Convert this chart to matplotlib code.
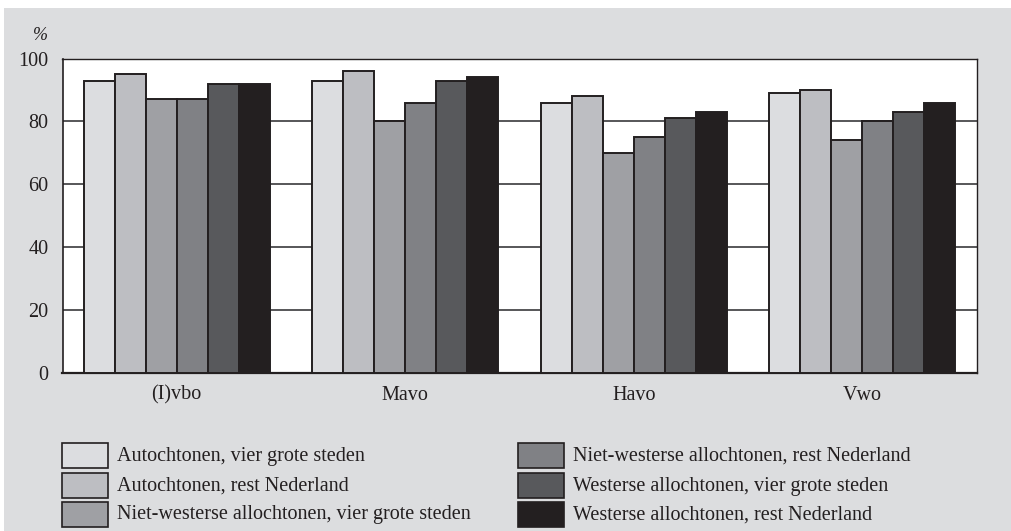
import numpy as np
import matplotlib
matplotlib.use("Agg")
import matplotlib.pyplot as plt
from matplotlib.patches import Rectangle

# categories and series
categories = ["(I)vbo", "Mavo", "Havo", "Vwo"]
series_names = [
    "Autochtonen, vier grote steden",
    "Autochtonen, rest Nederland",
    "Niet-westerse allochtonen, vier grote steden",
    "Niet-westerse allochtonen, rest Nederland",
    "Westerse allochtonen, vier grote steden",
    "Westerse allochtonen, rest Nederland",
]
auto_4gs = [93, 93, 86, 89]
auto_rest = [95, 96, 88, 90]
nw_4gs = [87, 80, 70, 74]
nw_rest = [87, 86, 75, 80]
w_4gs = [92, 93, 81, 83]
w_rest = [92, 94, 83, 86]
values = [auto_4gs, auto_rest, nw_4gs, nw_rest, w_4gs, w_rest]
colors = ["#dcdde0", "#bdbec2", "#9fa0a4", "#808185", "#58595c", "#231f20"]
yticks = [0, 20, 40, 60, 80, 100]

plt.rcParams["font.family"] = ["Liberation Serif", "DejaVu Serif"]
ink = "#231f20"
bg = "#dcdddf"

fig = plt.figure(figsize=(10.11, 5.31), dpi=100)
W, H = 1011, 531
# grey panel below a thin white strip
fig.patches.append(Rectangle((4 / W, 0), 1 - 4 / W, 1 - 8 / H, transform=fig.transFigure,
                             facecolor=bg, edgecolor="none", zorder=0))

ax = fig.add_axes([62.5 / W, 1 - 373 / H, 914 / W, (373 - 58.5) / H])
ax.set_zorder(2)
ax.set_facecolor("white")

x = np.arange(len(categories))
group_w = 0.812
bw = group_w / len(values)
for i, (vals, c) in enumerate(zip(values, colors)):
    ax.bar(x - group_w / 2 + bw * (i + 0.5), vals, width=bw, color=c,
           edgecolor=ink, linewidth=1.4, zorder=3, label=series_names[i])

ax.set_xlim(-0.5, 3.5)
ax.set_ylim(0, 100)
ax.set_yticks(yticks)
ax.set_xticks(x)
ax.set_xticklabels(categories, fontsize=14.5, color=ink)
ax.tick_params(axis="both", length=0, labelsize=14.5, colors=ink)
ax.tick_params(axis="y", pad=10)
ax.tick_params(axis="x", pad=9)
ax.yaxis.grid(True, color="#3a3a3c", linewidth=1.2, zorder=1)
ax.set_axisbelow(True)
for s in ax.spines.values():
    s.set_color(ink)
    s.set_linewidth(1.0)
ax.spines["bottom"].set_linewidth(1.6)
ax.spines["left"].set_linewidth(1.2)

fig.text(40 / W, 1 - 36 / H, "%", fontsize=13, style="italic", color=ink,
         ha="center", va="center", zorder=3)

# legend drawn by hand in two columns
col_x = [62, 518]
row_y = [455, 485, 514]
pw, ph = 46, 25
for i, name in enumerate(series_names):
    cx = col_x[i // 3]
    cy = row_y[i % 3]
    fig.patches.append(Rectangle((cx / W, 1 - (cy + ph / 2) / H), pw / W, ph / H,
                                 transform=fig.transFigure, facecolor=colors[i],
                                 edgecolor=ink, linewidth=1.2, zorder=2))
    fig.text((cx + pw + 9) / W, 1 - (cy + 1) / H, name, fontsize=14.5, color=ink,
             ha="left", va="center", zorder=3)

fig.savefig("out.png", dpi=100, facecolor="white")
